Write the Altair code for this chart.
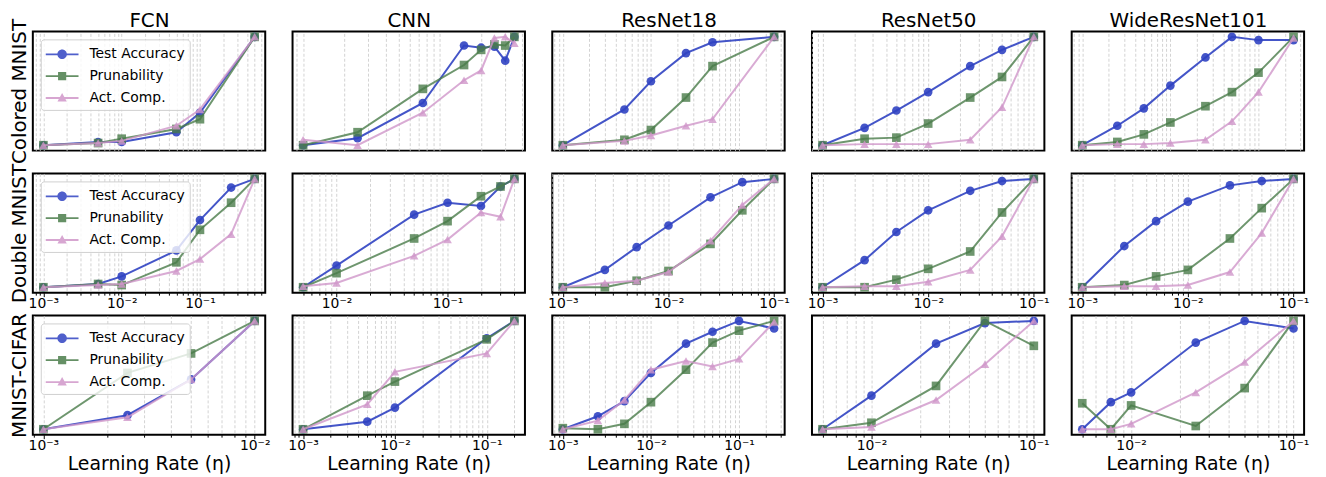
import math
import altair as alt
import pandas as pd

FONT = "DejaVu Sans"
COLS = ["FCN", "CNN", "ResNet18", "ResNet50", "WideResNet101"]
ROWS = ["Colored MNIST", "Double MNIST", "MNIST-CIFAR"]
SERIES = ["Test Accuracy", "Prunability", "Act. Comp."]
COLORS = ["#3043c2", "#4a7c4a", "#d096c9"]
SHAPES = ["circle", "square", "triangle-up"]
X_TITLE = "Learning Rate (η)"

# ---------------- Colored MNIST ----------------
CM_FCN_LR = [0.001, 0.005, 0.01, 0.05, 0.1, 0.5]
CM_FCN_ACC = [0.0, 0.03, 0.03, 0.12, 0.30, 1.0]
CM_FCN_PRUNE = [0.0, 0.02, 0.06, 0.15, 0.24, 1.0]
CM_FCN_ACT = [0.0, 0.02, 0.04, 0.18, 0.33, 1.0]

CM_CNN_LR = [0.01, 0.025, 0.075, 0.15, 0.2, 0.25, 0.3, 0.35]
CM_CNN_ACC = [0.0, 0.065, 0.39, 0.92, 0.90, 0.91, 0.78, 1.0]
CM_CNN_PRUNE = [0.0, 0.12, 0.52, 0.74, 0.88, 0.93, 0.92, 1.0]
CM_CNN_ACT = [0.05, 0.0, 0.30, 0.60, 0.69, 0.99, 1.0, 0.94]

CM_R18_LR = [0.001, 0.005, 0.01, 0.025, 0.05, 0.25]
CM_R18_ACC = [0.0, 0.33, 0.59, 0.85, 0.95, 1.0]
CM_R18_PRUNE = [0.0, 0.05, 0.14, 0.44, 0.73, 1.0]
CM_R18_ACT = [0.0, 0.04, 0.09, 0.18, 0.24, 1.0]

CM_R50_LR = [0.001, 0.0025, 0.005, 0.01, 0.025, 0.05, 0.1]
CM_R50_ACC = [0.0, 0.16, 0.32, 0.49, 0.73, 0.88, 1.0]
CM_R50_PRUNE = [0.0, 0.06, 0.07, 0.20, 0.44, 0.63, 1.0]
CM_R50_ACT = [0.0, 0.01, 0.01, 0.01, 0.05, 0.35, 1.0]

CM_WRN_LR = [0.001, 0.0025, 0.005, 0.01, 0.025, 0.05, 0.1, 0.25]
CM_WRN_ACC = [0.0, 0.18, 0.34, 0.55, 0.81, 1.0, 0.97, 0.97]
CM_WRN_PRUNE = [0.0, 0.03, 0.10, 0.21, 0.36, 0.49, 0.67, 1.0]
CM_WRN_ACT = [0.0, 0.01, 0.01, 0.02, 0.05, 0.22, 0.49, 0.99]

# ---------------- Double MNIST ----------------
DM_FCN_LR = [0.001, 0.005, 0.01, 0.05, 0.1, 0.25, 0.5]
DM_FCN_ACC = [0.0, 0.03, 0.10, 0.34, 0.62, 0.92, 1.0]
DM_FCN_PRUNE = [0.0, 0.03, 0.02, 0.23, 0.53, 0.78, 1.0]
DM_FCN_ACT = [0.0, 0.02, 0.03, 0.15, 0.26, 0.49, 1.0]

DM_CNN_LR = [0.005, 0.01, 0.05, 0.1, 0.2, 0.3, 0.4]
DM_CNN_ACC = [0.0, 0.20, 0.67, 0.78, 0.75, 0.93, 1.0]
DM_CNN_PRUNE = [0.0, 0.13, 0.45, 0.61, 0.84, 0.93, 1.0]
DM_CNN_ACT = [0.01, 0.04, 0.29, 0.44, 0.69, 0.65, 1.0]

DM_R18_LR = [0.001, 0.0025, 0.005, 0.01, 0.025, 0.05, 0.1]
DM_R18_ACC = [0.0, 0.16, 0.37, 0.57, 0.83, 0.97, 1.0]
DM_R18_PRUNE = [0.0, 0.0, 0.06, 0.15, 0.40, 0.71, 1.0]
DM_R18_ACT = [0.0, 0.04, 0.06, 0.14, 0.43, 0.76, 1.0]

DM_R50_LR = [0.001, 0.0025, 0.005, 0.01, 0.025, 0.05, 0.1]
DM_R50_ACC = [0.0, 0.25, 0.51, 0.71, 0.89, 0.98, 1.0]
DM_R50_PRUNE = [0.0, 0.0, 0.07, 0.17, 0.33, 0.69, 1.0]
DM_R50_ACT = [0.0, 0.01, 0.01, 0.05, 0.16, 0.47, 1.0]

DM_WRN_LR = [0.001, 0.0025, 0.005, 0.01, 0.025, 0.05, 0.1]
DM_WRN_ACC = [0.0, 0.38, 0.61, 0.79, 0.94, 0.98, 1.0]
DM_WRN_PRUNE = [0.0, 0.02, 0.10, 0.16, 0.45, 0.73, 1.0]
DM_WRN_ACT = [0.0, 0.01, 0.01, 0.02, 0.14, 0.50, 1.0]

# ---------------- MNIST-CIFAR ----------------
MC_FCN_LR = [0.001, 0.0025, 0.005, 0.01]
MC_FCN_ACC = [0.0, 0.13, 0.46, 1.0]
MC_FCN_PRUNE = [0.0, 0.52, 0.70, 1.0]
MC_FCN_ACT = [0.0, 0.11, 0.46, 1.0]

MC_CNN_LR = [0.001, 0.005, 0.01, 0.1, 0.2]
MC_CNN_ACC = [0.0, 0.07, 0.20, 0.84, 1.0]
MC_CNN_PRUNE = [0.0, 0.31, 0.44, 0.83, 1.0]
MC_CNN_ACT = [0.0, 0.23, 0.53, 0.70, 1.0]

MC_R18_LR = [0.001, 0.0025, 0.005, 0.01, 0.025, 0.05, 0.1, 0.25]
MC_R18_ACC = [0.0, 0.12, 0.26, 0.52, 0.79, 0.90, 1.0, 0.93]
MC_R18_PRUNE = [0.01, 0.0, 0.05, 0.25, 0.55, 0.80, 0.91, 1.0]
MC_R18_ACT = [0.0, 0.08, 0.27, 0.55, 0.63, 0.58, 0.65, 0.99]

MC_R50_LR = [0.005, 0.01, 0.025, 0.05, 0.1]
MC_R50_ACC = [0.0, 0.31, 0.79, 0.98, 1.0]
MC_R50_PRUNE = [0.0, 0.06, 0.40, 1.0, 0.77]
MC_R50_ACT = [0.0, 0.02, 0.27, 0.60, 1.0]

MC_WRN_LR = [0.005, 0.0075, 0.01, 0.025, 0.05, 0.1]
MC_WRN_ACC = [0.0, 0.25, 0.34, 0.80, 1.0, 0.93]
MC_WRN_PRUNE = [0.24, 0.0, 0.22, 0.03, 0.38, 1.0]
MC_WRN_ACT = [0.0, 0.0, 0.05, 0.34, 0.62, 1.0]

PANELS = [
    [(CM_FCN_LR, CM_FCN_ACC, CM_FCN_PRUNE, CM_FCN_ACT),
     (CM_CNN_LR, CM_CNN_ACC, CM_CNN_PRUNE, CM_CNN_ACT),
     (CM_R18_LR, CM_R18_ACC, CM_R18_PRUNE, CM_R18_ACT),
     (CM_R50_LR, CM_R50_ACC, CM_R50_PRUNE, CM_R50_ACT),
     (CM_WRN_LR, CM_WRN_ACC, CM_WRN_PRUNE, CM_WRN_ACT)],
    [(DM_FCN_LR, DM_FCN_ACC, DM_FCN_PRUNE, DM_FCN_ACT),
     (DM_CNN_LR, DM_CNN_ACC, DM_CNN_PRUNE, DM_CNN_ACT),
     (DM_R18_LR, DM_R18_ACC, DM_R18_PRUNE, DM_R18_ACT),
     (DM_R50_LR, DM_R50_ACC, DM_R50_PRUNE, DM_R50_ACT),
     (DM_WRN_LR, DM_WRN_ACC, DM_WRN_PRUNE, DM_WRN_ACT)],
    [(MC_FCN_LR, MC_FCN_ACC, MC_FCN_PRUNE, MC_FCN_ACT),
     (MC_CNN_LR, MC_CNN_ACC, MC_CNN_PRUNE, MC_CNN_ACT),
     (MC_R18_LR, MC_R18_ACC, MC_R18_PRUNE, MC_R18_ACT),
     (MC_R50_LR, MC_R50_ACC, MC_R50_PRUNE, MC_R50_ACT),
     (MC_WRN_LR, MC_WRN_ACC, MC_WRN_PRUNE, MC_WRN_ACT)],
]

# legend symbols: a short line with the marker in its middle (unit box, scaled by legend symbolSize)
LINE_PART = "M-1.0,-0.09H2.3V0.09H-1.0Z"
LEGEND_PATHS = [
    LINE_PART + "M1.13,0A0.48,0.48,0,1,1,0.17,0A0.48,0.48,0,1,1,1.13,0Z",
    LINE_PART + "M0.24,-0.41H1.06V0.41H0.24Z",
    LINE_PART + "M0.65,-0.5L1.12,0.36L0.18,0.36Z",
]

LOG10 = "(log(datum.value)/LN10)"
MAJOR = f"abs({LOG10} - round({LOG10})) < 0.001"
LABEL_EXPR = (f"{MAJOR} ? (round({LOG10}) == -3 ? '10⁻³' : round({LOG10}) == -2 ? '10⁻²' : "
              f"round({LOG10}) == -1 ? '10⁻¹' : '10⁰') : ''")

PW, PH = 234, 120
OPACITY = [0.9, 0.8, 0.8]


def make_panel(r, c, lr, acc, prune, act):
    recs = []
    for name, vals in zip(SERIES, [acc, prune, act]):
        for xv, yv in zip(lr, vals):
            recs.append({"lr": xv, "value": yv, "series": name})
    df = pd.DataFrame(recs)
    lo, hi = math.log10(min(lr)), math.log10(max(lr))
    m = 0.05 * (hi - lo)
    dom = [10 ** (lo - m), 10 ** (hi + m)]
    ticks = [mm * 10 ** k for k in range(-4, 1) for mm in range(1, 10)
             if dom[0] <= mm * 10 ** k <= dom[1]]
    xscale = alt.Scale(type="log", domain=dom, nice=False)

    xax = dict(values=ticks, labelExpr=LABEL_EXPR, grid=True, gridDash=[3, 2],
               gridColor="#c8c8c8", gridWidth=0.8,
               tickSize={"condition": {"test": MAJOR, "value": 4}, "value": 2.5},
               tickColor="black", tickWidth=1,
               labelFontSize=14, labelFont=FONT, labelColor="black", labelPadding=0,
               labelFlush=False, labelOverlap=False, domain=False)
    if r == 2:
        xax.update(title=X_TITLE, titleFontSize=19, titleFont=FONT,
                   titleFontWeight="normal", titleColor="black", titlePadding=2)
    else:
        xax.update(title="")
    yax = dict(labels=False, ticks=False, domain=False, grid=False)
    if c == 0:
        yax.update(title=ROWS[r], titleFontSize=20, titleFont=FONT,
                   titleFontWeight="normal", titleColor="black", titlePadding=3)
    else:
        yax.update(title="")

    x = alt.X("lr:Q", scale=xscale, axis=alt.Axis(**xax))
    y = alt.Y("value:Q", scale=alt.Scale(domain=[-0.05, 1.05], nice=False, zero=False),
              axis=alt.Axis(**yax))

    base = alt.Chart(df)
    layers = []
    for i, s in enumerate(SERIES):
        sub = base.transform_filter(alt.datum.series == s)
        layers.append(sub.mark_line(color=COLORS[i], strokeWidth=2, opacity=OPACITY[i]).encode(x=x, y=y))
        layers.append(sub.mark_point(shape=SHAPES[i], filled=True, size=76, color=COLORS[i],
                                     opacity=OPACITY[i]).encode(x=x, y=y))
    if r == 0:
        # column title carried by a top axis (keeps it clear of the row label)
        top_x = alt.X("lr:Q", scale=xscale, axis=alt.Axis(
            orient="top", title=COLS[c], labels=False, ticks=False, grid=False, domain=False,
            titleFontSize=20, titleFont=FONT, titleFontWeight="normal", titleColor="black",
            titlePadding=1))
        layers.append(base.mark_point(opacity=0).encode(x=top_x, y=y))
    if c == 0:
        leg = alt.Legend(title=None, orient="top-left", offset=8, padding=5,
                         strokeColor="#d0d0d0", fillColor="rgba(255,255,255,0.8)",
                         cornerRadius=3, labelFont=FONT, labelFontSize=14, labelColor="black",
                         symbolSize=400, symbolOpacity=0.85, symbolStrokeWidth=0,
                         labelOffset=24, rowPadding=5)
        layers.append(base.mark_point(filled=True, opacity=0).encode(
            x=x, y=y,
            color=alt.Color("series:N", scale=alt.Scale(domain=SERIES, range=COLORS), legend=leg),
            shape=alt.Shape("series:N", scale=alt.Scale(domain=SERIES, range=LEGEND_PATHS), legend=leg),
        ))
    return alt.layer(*layers).properties(width=PW, height=PH)


panels = [make_panel(r, c, *PANELS[r][c]) for r in range(3) for c in range(5)]

chart = (alt.concat(*panels, columns=5, spacing={"row": 23, "column": 27.5}, bounds="flush")
         .resolve_scale(color="independent", shape="independent")
         .resolve_legend(color="independent", shape="independent")
         .properties(padding={"left": 0, "top": 0, "right": 8, "bottom": 0})
         .configure_view(stroke="black", strokeWidth=2))

chart.save("out.html", embed_options={"renderer": "svg", "actions": False})
